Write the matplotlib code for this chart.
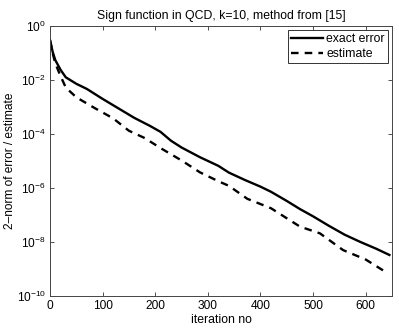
import matplotlib
matplotlib.use("Agg")
import matplotlib.pyplot as plt
import numpy as np

plt.rcParams['font.family'] = ['Liberation Sans', 'DejaVu Sans']
plt.rcParams['mathtext.fontset'] = 'custom'
plt.rcParams['mathtext.rm'] = 'Liberation Sans'

exact_x = [0, 5, 10, 20, 30, 50, 70, 100, 130, 160, 190, 210, 230, 250, 285, 320,
           340, 370, 400, 420, 450, 475, 500, 530, 560, 590, 620, 645]
exact_log = [-0.52, -0.95, -1.26, -1.62, -1.90, -2.14, -2.33, -2.70, -3.05, -3.40,
             -3.70, -3.92, -4.25, -4.50, -4.86, -5.18, -5.43, -5.70, -5.95, -6.14,
             -6.48, -6.78, -7.05, -7.40, -7.73, -8.00, -8.25, -8.48]
est_x = [0, 5, 10, 20, 30, 50, 85, 120, 150, 180, 210, 230, 250, 285, 320, 340,
         375, 420, 475, 513, 557, 600, 637]
est_log = [-0.52, -1.0, -1.38, -1.85, -2.28, -2.64, -3.04, -3.42, -3.88, -4.15,
           -4.52, -4.75, -4.98, -5.42, -5.75, -5.92, -6.40, -6.75, -7.43, -7.68,
           -8.30, -8.65, -9.10]

exact_err = [10 ** v for v in exact_log]
estimate = [10 ** v for v in est_log]

fig = plt.figure(figsize=(3.99, 3.28), dpi=100)
ax = fig.add_axes([0.1253, 0.0976, 0.8572, 0.8231])
ax.semilogy(exact_x, exact_err, color='black', lw=1.7, label='exact error')
ax.semilogy(est_x, estimate, color='black', lw=1.7, ls=(0, (3.2, 2.6)), label='estimate')
ax.set_xlim(0, 650)
ax.set_ylim(1e-10, 1)
ax.set_xticks([0, 100, 200, 300, 400, 500, 600])
ax.set_yticks([10.0 ** k for k in range(-10, 1, 2)])
ax.minorticks_off()
ax.tick_params(direction='in', top=True, right=True, labelsize=8.6, length=3,
               width=0.6, colors='#333333', labelcolor='black', pad=3)
for s in ax.spines.values():
    s.set_linewidth(0.7)
    s.set_color('#444444')
ax.set_title('Sign function in QCD, k=10, method from [15]', fontsize=8.8, pad=5)
ax.set_xlabel('iteration no', fontsize=8.8, labelpad=1)
ax.set_ylabel('2\u2013norm of error / estimate', fontsize=8.6)
ax.yaxis.set_label_coords(-0.1, 0.5)
leg = ax.legend(loc='upper right', fontsize=8.8, frameon=True, fancybox=False,
                framealpha=1, edgecolor='#333333', borderpad=0.25, labelspacing=0.2,
                handlelength=2.6, handletextpad=0.3, borderaxespad=0.35)
leg.get_frame().set_linewidth(0.7)
fig.savefig('out.png', dpi=100)
